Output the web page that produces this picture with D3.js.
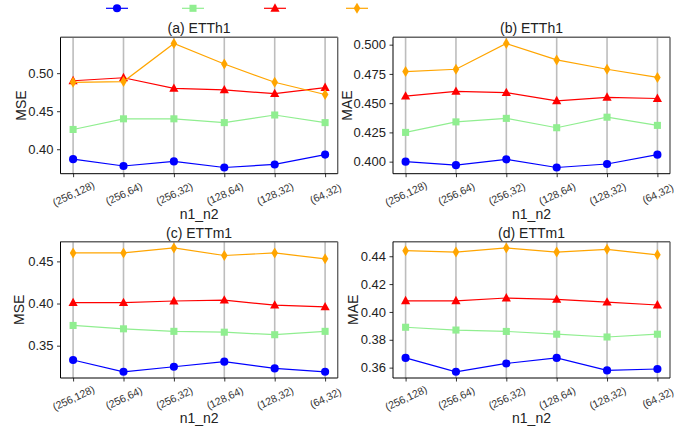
<!DOCTYPE html>
<html><head><meta charset="utf-8">
<script src="https://cdn.jsdelivr.net/npm/d3@7"></script>
<style>
html,body{margin:0;padding:0;background:#fff;}
svg text{font-family:"Liberation Sans",Arial,Helvetica,sans-serif;}
</style></head>
<body>
<svg id="chart" width="695" height="436"></svg>
<script>
// ---------- data ----------
const categories = ["(256,128)","(256,64)","(256,32)","(128,64)","(128,32)","(64,32)"];
const seriesNames = ["s1","s2","s3","s4"];
const seriesColors = ["#0000ff","#90ee90","#ff0000","#ffa500"];
const seriesMarkers = ["circle","square","triangle","diamond"];

const etth1MSE_s1 = [0.387,0.378,0.384,0.376,0.380,0.393];
const etth1MSE_s2 = [0.426,0.440,0.440,0.435,0.445,0.435];
const etth1MSE_s3 = [0.490,0.494,0.480,0.478,0.473,0.481];
const etth1MSE_s4 = [0.488,0.489,0.539,0.512,0.488,0.472];

const etth1MAE_s1 = [0.400,0.397,0.402,0.395,0.398,0.406];
const etth1MAE_s2 = [0.425,0.434,0.437,0.429,0.438,0.431];
const etth1MAE_s3 = [0.456,0.460,0.459,0.452,0.455,0.454];
const etth1MAE_s4 = [0.477,0.479,0.501,0.487,0.479,0.472];

const ettm1MSE_s1 = [0.333,0.319,0.325,0.331,0.323,0.319];
const ettm1MSE_s2 = [0.374,0.370,0.367,0.366,0.363,0.367];
const ettm1MSE_s3 = [0.401,0.401,0.403,0.404,0.398,0.396];
const ettm1MSE_s4 = [0.460,0.460,0.466,0.457,0.460,0.453];

const ettm1MAE_s1 = [0.367,0.357,0.363,0.367,0.358,0.359];
const ettm1MAE_s2 = [0.389,0.387,0.386,0.384,0.382,0.384];
const ettm1MAE_s3 = [0.408,0.408,0.410,0.409,0.407,0.405];
const ettm1MAE_s4 = [0.444,0.443,0.446,0.443,0.445,0.441];

const ticksA = [0.40,0.45,0.50];
const ticksB = [0.400,0.425,0.450,0.475,0.500];
const ticksC = [0.35,0.40,0.45];
const ticksD = [0.36,0.38,0.40,0.42,0.44];

const titles = ["(a) ETTh1","(b) ETTh1","(c) ETTm1","(d) ETTm1"];
const yLabels = ["MSE","MAE","MSE","MAE"];
const xLabel = "n1_n2";

// ---------- layout ----------
const panels = [
  {series:[etth1MSE_s1,etth1MSE_s2,etth1MSE_s3,etth1MSE_s4], ticks:ticksA, fmt:".2f",
   L:60.5,R:337.7,T:37.3,B:173.7, ylx:21},
  {series:[etth1MAE_s1,etth1MAE_s2,etth1MAE_s3,etth1MAE_s4], ticks:ticksB, fmt:".3f",
   L:393,R:670,T:37.3,B:173.7, ylx:347},
  {series:[ettm1MSE_s1,ettm1MSE_s2,ettm1MSE_s3,ettm1MSE_s4], ticks:ticksC, fmt:".2f",
   L:60.5,R:337.7,T:241.7,B:378, ylx:19},
  {series:[ettm1MAE_s1,ettm1MAE_s2,ettm1MAE_s3,ettm1MAE_s4], ticks:ticksD, fmt:".2f",
   L:393,R:670,T:241.7,B:378, ylx:353}
];

const svg = d3.select("#chart");

function markerPath(type){
  if(type==="circle") return d3.symbol(d3.symbolCircle, 52)();
  if(type==="square") return d3.symbol(d3.symbolSquare, 50)();
  if(type==="triangle") return "M0,-5L4.6,3.4L-4.6,3.4Z";
  return "M0,-5.5L3.3,0L0,5.5L-3.3,0Z";
}

panels.forEach((p,i)=>{
  const g = svg.append("g");
  const all = p.series.flat();
  const mn = d3.min(all), mx = d3.max(all), m = (mx-mn)*0.05;
  const y = d3.scaleLinear().domain([mn-m, mx+m]).range([p.B, p.T]);
  // matplotlib-style x margins: 5% of the span on each side
  const x = d3.scaleLinear().domain([-0.25, categories.length-1+0.25]).range([p.L, p.R]);
  const xc = c => x(categories.indexOf(c));

  // gridlines (vertical)
  g.append("g").selectAll("line").data(categories).join("line")
    .attr("x1",d=>xc(d)).attr("x2",d=>xc(d)).attr("y1",p.T).attr("y2",p.B)
    .attr("stroke","#bdbdbd").attr("stroke-width",1.6);

  // y axis
  const ya = g.append("g").attr("transform",`translate(${p.L},0)`)
    .call(d3.axisLeft(y).tickValues(p.ticks).tickFormat(d3.format(p.fmt)).tickSize(3.5).tickPadding(3.5));
  ya.select(".domain").remove();
  ya.selectAll("line").attr("stroke","#000").attr("stroke-width",0.8);
  ya.selectAll("text").attr("font-size",13).attr("fill","#222");

  // x axis
  const xa = g.append("g").attr("transform",`translate(0,${p.B})`)
    .call(d3.axisBottom(x).tickValues(d3.range(categories.length))
      .tickFormat(k=>categories[k]).tickSize(3.5).tickPadding(3));
  xa.select(".domain").remove();
  xa.selectAll("line").attr("stroke","#000").attr("stroke-width",0.8);
  xa.selectAll("text").attr("font-size",10.5).attr("fill","#333")
    .attr("text-anchor","middle")
    .attr("transform","translate(0,20) rotate(-25)")
    .attr("dy","0.35em").attr("y",0);

  // lines & markers
  p.series.forEach((vals,si)=>{
    const line = d3.line().x((d,k)=>x(k)).y(d=>y(d));
    g.append("path").attr("d",line(vals)).attr("fill","none")
      .attr("stroke",seriesColors[si]).attr("stroke-width",1.2);
    g.append("g").selectAll("path").data(vals).join("path")
      .attr("transform",(d,k)=>`translate(${x(k)},${y(d)})`)
      .attr("d",markerPath(seriesMarkers[si])).attr("fill",seriesColors[si]);
  });

  // spines
  g.append("line").attr("x1",p.L).attr("x2",p.R).attr("y1",p.T).attr("y2",p.T).attr("stroke","#666").attr("stroke-width",1.4);
  g.append("line").attr("x1",p.R).attr("x2",p.R).attr("y1",p.T).attr("y2",p.B).attr("stroke","#666").attr("stroke-width",1.4);
  g.append("line").attr("x1",p.L).attr("x2",p.L).attr("y1",p.T).attr("y2",p.B).attr("stroke","#000").attr("stroke-width",1);
  g.append("line").attr("x1",p.L).attr("x2",p.R).attr("y1",p.B).attr("y2",p.B).attr("stroke","#000").attr("stroke-width",1);

  // title
  g.append("text").attr("x",(p.L+p.R)/2).attr("y",p.T-4).attr("text-anchor","middle")
    .attr("font-size",14).attr("fill","#222").text(titles[i]);
  // y label
  g.append("text").attr("transform",`translate(${p.ylx+5},${(p.T+p.B)/2}) rotate(-90)`)
    .attr("text-anchor","middle").attr("font-size",14).attr("fill","#222").text(yLabels[i]);
  // x label
  g.append("text").attr("x",(p.L+p.R)/2).attr("y",p.B+45).attr("text-anchor","middle")
    .attr("font-size",14).attr("fill","#222").text(xLabel);
});

// legend (no labels)
const legX = [117,193,275,357];
const lg = svg.append("g");
seriesNames.forEach((n,si)=>{
  lg.append("line").attr("x1",legX[si]-11).attr("x2",legX[si]+11).attr("y1",8.3).attr("y2",8.3)
    .attr("stroke",seriesColors[si]).attr("stroke-width",1.2);
  lg.append("path").attr("transform",`translate(${legX[si]},8.3)`)
    .attr("d",markerPath(seriesMarkers[si])).attr("fill",seriesColors[si]);
});
</script>
</body></html>
